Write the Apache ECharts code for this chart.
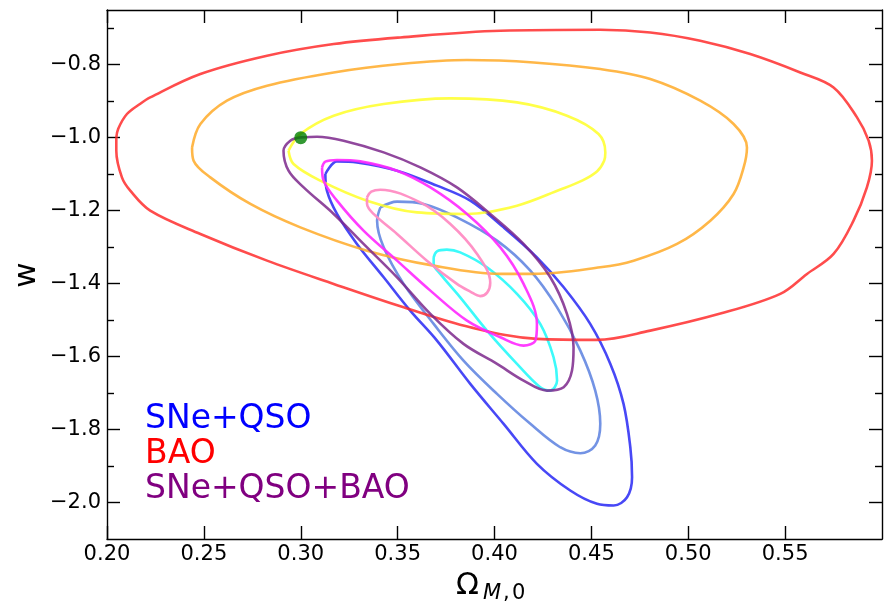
<!DOCTYPE html>
<html>
<head>
<meta charset="utf-8">
<script src="https://cdn.jsdelivr.net/npm/echarts@6/dist/echarts.min.js"></script>
<style>
html,body{margin:0;padding:0;background:#fff;}
#chart{width:892px;height:614px;}
</style>
</head>
<body>
<div id="chart"></div>
<script>
// ---- data (Omega_M0, w) ----
var xTicks = [0.20, 0.25, 0.30, 0.35, 0.40, 0.45, 0.50, 0.55];
var yMajorTicks = [-2.0, -1.8, -1.6, -1.4, -1.2, -1.0, -0.8];
var yMinorTicks = [-1.9, -1.7, -1.5, -1.3, -1.1, -0.9, -0.7];

// SNe+QSO contours
var sneOuter = [[0.3127,-1.0995],[0.3187,-1.0649],[0.3290,-1.0677],[0.3497,-1.0904],[0.3703,-1.1315],[0.3875,-1.1726],[0.4047,-1.2458],[0.4219,-1.3279],[0.4357,-1.4101],[0.4494,-1.5104],[0.4598,-1.6200],[0.4666,-1.7296],[0.4701,-1.8485],[0.4710,-1.9307],[0.4684,-1.9855],[0.4615,-2.0082],[0.4529,-2.0036],[0.4391,-1.9671],[0.4219,-1.8940],[0.4047,-1.7844],[0.3875,-1.6748],[0.3703,-1.5562],[0.3565,-1.4740],[0.3428,-1.3827],[0.3290,-1.2912],[0.3187,-1.2090],[0.3135,-1.1452]];
var sneMid = [[0.3411,-1.1910],[0.3497,-1.1753],[0.3634,-1.1816],[0.3806,-1.2184],[0.4013,-1.2822],[0.4185,-1.3644],[0.4323,-1.4650],[0.4443,-1.5836],[0.4520,-1.6932],[0.4546,-1.7844],[0.4520,-1.8438],[0.4443,-1.8649],[0.4339,-1.8485],[0.4185,-1.7844],[0.4013,-1.7022],[0.3840,-1.6110],[0.3686,-1.5104],[0.3531,-1.4008],[0.3428,-1.3005],[0.3394,-1.2274]];
var sneInner = [[0.3686,-1.3279],[0.3703,-1.3115],[0.3754,-1.3068],[0.3823,-1.3143],[0.3961,-1.3553],[0.4116,-1.4282],[0.4236,-1.5104],[0.4305,-1.6019],[0.4323,-1.6658],[0.4288,-1.6932],[0.4236,-1.6841],[0.4116,-1.6200],[0.3961,-1.5288],[0.3823,-1.4375],[0.3720,-1.3734],[0.3686,-1.3460]];

// BAO contours
var baoOuter = [[0.2048,-1.0000],[0.2058,-0.9753],[0.2103,-0.9351],[0.2172,-0.9068],[0.2223,-0.8896],[0.2482,-0.8255],[0.2826,-0.7753],[0.3170,-0.7433],[0.3514,-0.7252],[0.4030,-0.7068],[0.4546,-0.7041],[0.4804,-0.7115],[0.5062,-0.7342],[0.5320,-0.7707],[0.5578,-0.8211],[0.5750,-0.8622],[0.5871,-0.9444],[0.5931,-1.0082],[0.5948,-1.0630],[0.5922,-1.1362],[0.5853,-1.2274],[0.5750,-1.3187],[0.5613,-1.3734],[0.5475,-1.4282],[0.5166,-1.4822],[0.4804,-1.5288],[0.4529,-1.5542],[0.4219,-1.5515],[0.3875,-1.5197],[0.3531,-1.4650],[0.3170,-1.4008],[0.2826,-1.3370],[0.2482,-1.2638],[0.2223,-1.2000],[0.2120,-1.1452],[0.2077,-1.1088],[0.2048,-1.0356]];
var baoMid = [[0.2439,-1.0266],[0.2482,-0.9625],[0.2619,-0.8986],[0.2826,-0.8575],[0.3170,-0.8211],[0.3514,-0.7981],[0.3858,-0.7871],[0.4202,-0.7937],[0.4546,-0.8118],[0.4804,-0.8392],[0.5062,-0.8986],[0.5234,-0.9625],[0.5303,-1.0266],[0.5286,-1.0814],[0.5234,-1.1543],[0.5114,-1.2274],[0.4942,-1.2912],[0.4718,-1.3370],[0.4546,-1.3553],[0.4202,-1.3734],[0.4030,-1.3734],[0.3686,-1.3507],[0.3342,-1.3096],[0.2998,-1.2458],[0.2740,-1.1816],[0.2533,-1.1088],[0.2447,-1.0630]];
var baoInner = [[0.2937,-1.0356],[0.2998,-0.9899],[0.3170,-0.9397],[0.3428,-0.9077],[0.3772,-0.8923],[0.4116,-0.9033],[0.4374,-0.9397],[0.4537,-0.9899],[0.4572,-1.0403],[0.4566,-1.0630],[0.4530,-1.0920],[0.4455,-1.1170],[0.4340,-1.1420],[0.4116,-1.1863],[0.3858,-1.2090],[0.3600,-1.2047],[0.3342,-1.1726],[0.3101,-1.1178],[0.2963,-1.0721]];

// SNe+QSO+BAO contours
var allOuter = [[0.2998,-0.9992],[0.3084,-0.9973],[0.3221,-1.0082],[0.3428,-1.0403],[0.3617,-1.0814],[0.3806,-1.1362],[0.3978,-1.2090],[0.4150,-1.2912],[0.4288,-1.3827],[0.4374,-1.4830],[0.4408,-1.5745],[0.4400,-1.6384],[0.4357,-1.6841],[0.4271,-1.6932],[0.4150,-1.6658],[0.4013,-1.6200],[0.3840,-1.5652],[0.3669,-1.4830],[0.3497,-1.3827],[0.3324,-1.2912],[0.3170,-1.2090],[0.3015,-1.1362],[0.2937,-1.0904],[0.2911,-1.0356],[0.2946,-1.0082]];
var allMid = [[0.3110,-1.0814],[0.3127,-1.0658],[0.3187,-1.0611],[0.3307,-1.0649],[0.3497,-1.0904],[0.3669,-1.1362],[0.3858,-1.2090],[0.4030,-1.3005],[0.4150,-1.4008],[0.4219,-1.5104],[0.4211,-1.5562],[0.4150,-1.5699],[0.4030,-1.5471],[0.3858,-1.5014],[0.3669,-1.4192],[0.3497,-1.3370],[0.3324,-1.2548],[0.3187,-1.1726],[0.3118,-1.1178]];
var allInner = [[0.3342,-1.1636],[0.3364,-1.1480],[0.3411,-1.1425],[0.3617,-1.1773],[0.3772,-1.2364],[0.3910,-1.3187],[0.3978,-1.3973],[0.3962,-1.4247],[0.3926,-1.4342],[0.3875,-1.4219],[0.3806,-1.4008],[0.3651,-1.3370],[0.3497,-1.2638],[0.3376,-1.2090],[0.3342,-1.1808]];

var fiducial = [[0.30, -1.0]];

var legendTexts = ['SNe+QSO', 'BAO', 'SNe+QSO+BAO'];

// ---- chart ----
function closed(arr){ return arr.concat([arr[0]]); }
function contour(name, arr, color){
  return {
    type: 'line', name: name, data: closed(arr), smooth: 0.35,
    showSymbol: false, symbol: 'none', silent: true,
    lineStyle: { color: color, width: 2.6 },
    xAxisIndex: 0, yAxisIndex: 0, animation: false
  };
}
var FONT = 'DejaVu Sans';
var axisLineStyle = { color: '#000', width: 1.4 };
function minus(v, d){ return (v < 0 ? '\u2212' : '') + Math.abs(v).toFixed(d); }

var chart = echarts.init(document.getElementById('chart'));
chart.setOption({
  animation: false,
  backgroundColor: '#fff',
  grid: { left: 107, right: 10, top: 10, bottom: 75, containLabel: false, outerBoundsMode: 'none' },
  xAxis: [
    { type: 'value', position: 'bottom', min: 0.2, max: 0.6,
      axisLine: { show: true, onZero: false, lineStyle: axisLineStyle },
      axisTick: { show: true, inside: true, length: 13, lineStyle: axisLineStyle, customValues: xTicks },
      axisLabel: { show: true, customValues: xTicks, formatter: function(v){ return v.toFixed(2); },
                   fontFamily: FONT, fontSize: 21, color: '#000', margin: 5 },
      splitLine: { show: false } },
    { type: 'value', position: 'top', min: 0.2, max: 0.6,
      axisLine: { show: true, onZero: false, lineStyle: axisLineStyle },
      axisTick: { show: true, inside: true, length: 13, lineStyle: axisLineStyle, customValues: xTicks },
      axisLabel: { show: false },
      splitLine: { show: false } }
  ],
  yAxis: [
    { type: 'value', position: 'left', min: -2.1, max: -0.65,
      axisLine: { show: true, onZero: false, lineStyle: axisLineStyle },
      axisTick: { show: true, inside: true, length: 13, lineStyle: axisLineStyle, customValues: yMajorTicks },
      axisLabel: { show: true, customValues: yMajorTicks, formatter: function(v){ return minus(v, 1); },
                   fontFamily: FONT, fontSize: 21, color: '#000', margin: 6 },
      splitLine: { show: false } },
    { type: 'value', position: 'left', min: -2.1, max: -0.65,
      axisLine: { show: false },
      axisTick: { show: true, inside: true, length: 7, lineStyle: axisLineStyle, customValues: yMinorTicks },
      axisLabel: { show: false }, splitLine: { show: false } },
    { type: 'value', position: 'right', min: -2.1, max: -0.65,
      axisLine: { show: true, onZero: false, lineStyle: axisLineStyle },
      axisTick: { show: true, inside: true, length: 13, lineStyle: axisLineStyle, customValues: yMajorTicks },
      axisLabel: { show: false }, splitLine: { show: false } },
    { type: 'value', position: 'right', min: -2.1, max: -0.65,
      axisLine: { show: false },
      axisTick: { show: true, inside: true, length: 7, lineStyle: axisLineStyle, customValues: yMinorTicks },
      axisLabel: { show: false }, splitLine: { show: false } }
  ],
  series: [
    contour('SNe+QSO 2', sneOuter, 'rgba(40,40,245,0.85)'),
    contour('SNe+QSO 1', sneMid, 'rgba(100,135,225,0.9)'),
    contour('SNe+QSO 0', sneInner, 'rgba(40,250,250,0.9)'),
    contour('BAO 2', baoOuter, 'rgba(255,45,45,0.85)'),
    contour('BAO 1', baoMid, 'rgba(255,170,40,0.85)'),
    contour('BAO 0', baoInner, 'rgba(255,255,40,0.85)'),
    contour('All 2', allOuter, 'rgba(125,40,140,0.85)'),
    contour('All 1', allMid, 'rgba(255,40,255,0.9)'),
    contour('All 0', allInner, 'rgba(255,140,195,0.95)'),
    { type: 'scatter', data: fiducial, symbol: 'circle', symbolSize: 13,
      itemStyle: { color: '#008000' }, silent: true, z: 5, animation: false }
  ],
  graphic: [
    { type: 'text', x: 145, y: 419.7, silent: true,
      style: { text: legendTexts[0], fill: '#0000ff', font: '33px "DejaVu Sans"', align: 'left', verticalAlign: 'middle' } },
    { type: 'text', x: 145, y: 454.4, silent: true,
      style: { text: legendTexts[1], fill: '#ff0000', font: '33px "DejaVu Sans"', align: 'left', verticalAlign: 'middle' } },
    { type: 'text', x: 145, y: 489.4, silent: true,
      style: { text: legendTexts[2], fill: '#800080', font: '33px "DejaVu Sans"', align: 'left', verticalAlign: 'middle' } },
    { type: 'text', x: 456, y: 586.4, silent: true,
      style: { text: '\u03A9', fill: '#000', font: '30px "DejaVu Sans"', align: 'left', verticalAlign: 'middle' } },
    { type: 'text', x: 483, y: 593.5, silent: true,
      style: { text: 'M', fill: '#000', font: 'italic 21px "DejaVu Sans"', align: 'left', verticalAlign: 'middle' } },
    { type: 'text', x: 503, y: 593.5, silent: true,
      style: { text: ',', fill: '#000', font: '21px "DejaVu Sans"', align: 'left', verticalAlign: 'middle' } },
    { type: 'text', x: 512, y: 593.5, silent: true,
      style: { text: '0', fill: '#000', font: '21px "DejaVu Sans"', align: 'left', verticalAlign: 'middle' } },
    { type: 'text', x: 27, y: 275, rotation: Math.PI / 2, silent: true,
      style: { text: 'w', fill: '#000', font: '31px "DejaVu Sans"', align: 'center', verticalAlign: 'middle' } }
  ]
});
</script>
</body>
</html>
